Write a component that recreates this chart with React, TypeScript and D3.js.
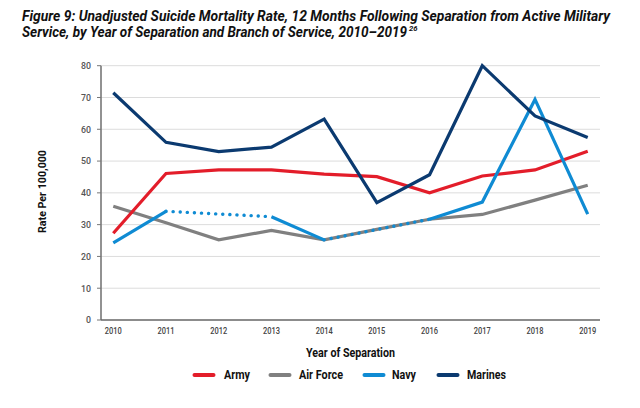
import * as d3 from 'd3';

const years = ['2010', '2011', '2012', '2013', '2014', '2015', '2016', '2017', '2018', '2019'];
const yTicks = [0, 10, 20, 30, 40, 50, 60, 70, 80];

const army = [27.3, 46.1, 47.2, 47.2, 45.9, 45.1, 40.0, 45.3, 47.2, 53.1];
const airForce = [35.8, 30.6, 25.2, 28.2, 25.2, 28.5, 31.7, 33.2, 37.7, 42.4];
// null = no published value, bridged with a dotted line
const navy = [24.3, 34.2, null, 32.5, 25.2, null, 31.7, 37.1, 69.4, 33.3];
const marines = [71.5, 55.9, 53.0, 54.4, 63.2, 36.9, 45.7, 80.0, 64.2, 57.4];

const series = [
  { name: 'Air Force', color: '#808080', values: airForce },
  { name: 'Army', color: '#e31d2a', values: army },
  { name: 'Navy', color: '#0f8bd3', values: navy },
  { name: 'Marines', color: '#0b3a70', values: marines },
];
const legendOrder = ['Army', 'Air Force', 'Navy', 'Marines'];

const FONT = 'Roboto, "Liberation Sans", sans-serif';

export default function App() {
  const left = 101;
  const right = 600;
  const top = 65.7;
  const bottom = 320;

  const x = d3.scalePoint<string>().domain(years).range([left, right]).padding(0.233);
  const y = d3.scaleLinear().domain([0, 80]).range([bottom, top]);

  type Pt = { year: string; v: number | null };
  const line = d3
    .line<Pt>()
    .defined(d => d.v != null)
    .x(d => x(d.year)!)
    .y(d => y(d.v as number));

  // dotted bridges across missing years
  const gaps = (vals: (number | null)[]) => {
    const out: [Pt, Pt][] = [];
    for (let i = 0; i < vals.length; i++) {
      if (vals[i] == null) {
        let a = i - 1;
        let b = i + 1;
        while (b < vals.length && vals[b] == null) b++;
        if (a >= 0 && b < vals.length) out.push([{ year: years[a], v: vals[a] }, { year: years[b], v: vals[b] }]);
        i = b;
      }
    }
    return out;
  };

  const legendX = [193, 269, 363, 437];
  const legendTx = [224, 299, 392, 467];
  const legendW = [26, 44, 24, 39];

  return (
    <svg width={640} height={408} style={{ position: 'absolute', left: 0, top: 0 }} fontFamily={FONT}>
      <rect width={640} height={408} fill="#fff" />
      <text x={22} y={21} fontSize={14} fontWeight="bold" fontStyle="italic" fill="#111" textLength={588} lengthAdjust="spacingAndGlyphs">
        Figure 9: Unadjusted Suicide Mortality Rate, 12 Months Following Separation from Active Military
      </text>
      <text x={22} y={37} fontSize={14} fontWeight="bold" fontStyle="italic" fill="#111" textLength={385} lengthAdjust="spacingAndGlyphs">
        Service, by Year of Separation and Branch of Service, 2010–2019
      </text>
      <text x={409} y={31} fontSize={7.5} fontWeight="bold" fontStyle="italic" fill="#111" textLength={8.5} lengthAdjust="spacingAndGlyphs">
        26
      </text>

      {yTicks.map(t => (
        <g key={t}>
          {t > 0 && <line x1={left} x2={right} y1={y(t)} y2={y(t)} stroke="#dcdcdc" strokeWidth={1} />}
          <line x1={left - 4} x2={left} y1={y(t)} y2={y(t)} stroke="#777" strokeWidth={1} />
          <text x={91} y={y(t)} dy="0.35em" textAnchor="end" fontSize={9.5} fontWeight={500} fill="#555" textLength={t === 0 ? 5 : 10} lengthAdjust="spacingAndGlyphs">
            {t}
          </text>
        </g>
      ))}
      <line x1={left} x2={left} y1={top} y2={bottom} stroke="#777" strokeWidth={1.6} />
      <line x1={left} x2={right} y1={bottom} y2={bottom} stroke="#666" strokeWidth={1.6} />

      {years.map(yr => (
        <text key={yr} x={x(yr)! - 8.5} y={334} fontSize={9} fontWeight={500} fill="#444" textLength={17} lengthAdjust="spacingAndGlyphs">
          {yr}
        </text>
      ))}

      {series.map(s => {
        const pts: Pt[] = s.values.map((v, i) => ({ year: years[i], v }));
        return (
          <g key={s.name}>
            <path d={line(pts) ?? ''} fill="none" stroke={s.color} strokeWidth={3.2} strokeLinejoin="miter" />
            {gaps(s.values).map((g, i) => (
              <path
                key={i}
                d={line(g) ?? ''}
                fill="none"
                stroke={s.color}
                strokeWidth={3.4}
                strokeLinecap="round"
                strokeDasharray="0.1 7"
              />
            ))}
          </g>
        );
      })}

      <text x={306} y={357} fontSize={12} fontWeight="bold" fill="#111" textLength={89} lengthAdjust="spacingAndGlyphs">
        Year of Separation
      </text>
      <text
        transform={`translate(46,233) rotate(-90)`}
        fontSize={11}
        fontWeight="bold"
        fill="#111"
        textLength={83}
        lengthAdjust="spacingAndGlyphs"
      >
        Rate Per 100,000
      </text>

      {legendOrder.map((n, i) => {
        const s = series.find(d => d.name === n)!;
        const lx = legendX[i];
        return (
          <g key={n}>
            <line x1={lx + 1.5} x2={lx + 20.5} y1={375} y2={375} stroke={s.color} strokeWidth={4} strokeLinecap="round" />
            <text x={legendTx[i]} y={375} dy="0.35em" fontSize={12} fontWeight="bold" fill="#111" textLength={legendW[i]} lengthAdjust="spacingAndGlyphs">
              {n}
            </text>
          </g>
        );
      })}
    </svg>
  );
}
